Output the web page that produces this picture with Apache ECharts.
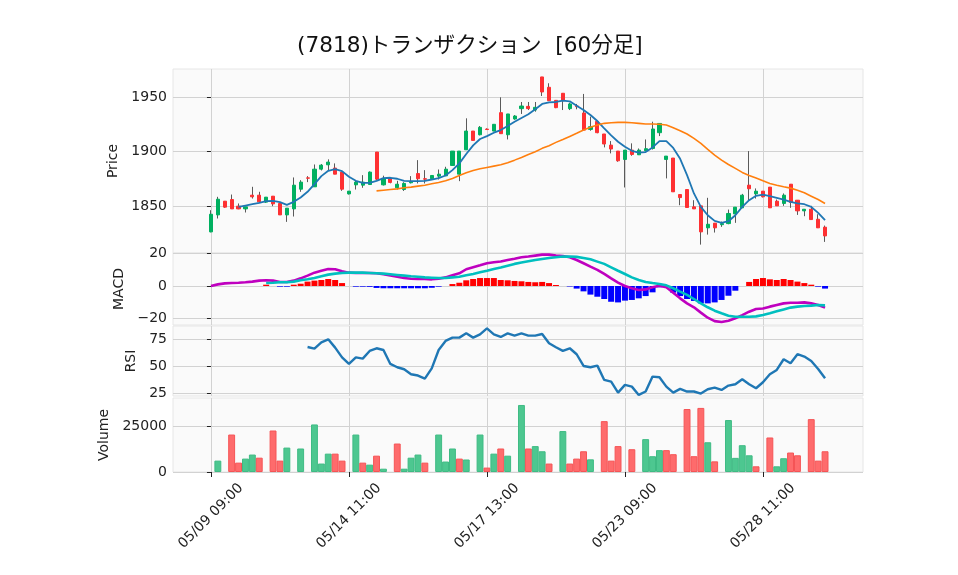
<!DOCTYPE html>
<html>
<head>
<meta charset="utf-8">
<script src="https://cdn.jsdelivr.net/npm/echarts@6/dist/echarts.min.js"></script>
<style>
  html, body { margin: 0; padding: 0; background: #fff; }
  #chart { width: 958px; height: 575px; }
</style>
</head>
<body>
<div id="chart"></div>
<script>
// bar labels: 6 hourly bars per trading day
const days = ['05/09', '05/10', '05/13', '05/14', '05/15', '05/16', '05/17', '05/20',
  '05/21', '05/22', '05/23', '05/24', '05/27', '05/28', '05/29']
const hours = ['09:00', '10:00', '11:00', '12:00', '13:00', '14:00']
const xTicks = [0, 20, 40, 60, 80]

const opens = [1826.4, 1842.0, 1854.6, 1856.1, 1850.0, 1847.5, 1860.1, 1860.1, 1853.7, 1859.2,
  1852.5, 1842.0, 1847.5, 1865.6, 1876.0, 1867.8, 1884.0, 1888.0, 1885.0, 1881.3,
  1861.3, 1869.6, 1869.3, 1869.9, 1899.7, 1869.6, 1875.5, 1866.9, 1865.3, 1871.5,
  1880.0, 1875.2, 1875.2, 1877.6, 1877.9, 1887.4, 1879.4, 1901.8, 1919.0, 1915.6,
  1920.8, 1919.0, 1935.9, 1915.6, 1930.1, 1939.6, 1941.7, 1938.3, 1968.7, 1959.2,
  1947.2, 1953.7, 1939.6, 1942.0, 1935.6, 1920.5, 1927.9, 1916.3, 1906.1, 1900.6,
  1892.9, 1901.5, 1897.2, 1900.9, 1903.0, 1917.5, 1892.9, 1894.2, 1860.7, 1865.3,
  1849.4, 1850.3, 1830.1, 1834.4, 1833.0, 1834.0, 1842.9, 1848.5, 1869.3, 1861.3,
  1863.8, 1867.5, 1854.6, 1852.5, 1870.2, 1855.5, 1845.7, 1847.2, 1838.0, 1830.7]
const closes = [1842.6, 1856.4, 1849.1, 1847.5, 1847.5, 1849.4, 1858.6, 1854.0, 1858.3, 1852.1,
  1842.0, 1848.2, 1869.3, 1872.1, 1875.7, 1884.0, 1887.7, 1890.5, 1879.4, 1865.6,
  1863.8, 1872.1, 1872.1, 1881.3, 1874.8, 1875.5, 1871.8, 1870.2, 1870.9, 1872.7,
  1875.2, 1874.8, 1878.2, 1879.4, 1884.0, 1900.6, 1900.6, 1919.0, 1910.4, 1922.4,
  1920.4, 1925.2, 1916.6, 1934.7, 1932.8, 1942.0, 1939.6, 1940.8, 1954.9, 1946.9,
  1940.5, 1946.9, 1943.9, 1941.4, 1919.9, 1923.0, 1917.5, 1907.1, 1902.5, 1891.7,
  1901.5, 1897.5, 1901.5, 1902.8, 1920.9, 1926.0, 1896.0, 1863.2, 1857.9, 1848.8,
  1847.5, 1826.4, 1833.4, 1830.1, 1834.0, 1843.3, 1849.1, 1860.1, 1866.0, 1863.8,
  1858.6, 1848.5, 1850.3, 1860.1, 1853.4, 1845.7, 1847.2, 1837.7, 1830.1, 1822.7]
const highs = [1846.3, 1858.6, 1854.6, 1860.7, 1852.5, 1849.4, 1867.8, 1863.2, 1858.3, 1859.2,
  1852.5, 1848.2, 1876.4, 1873.9, 1877.6, 1888.3, 1888.7, 1893.0, 1889.3, 1881.3,
  1864.0, 1873.3, 1878.5, 1881.9, 1899.7, 1878.0, 1876.0, 1873.3, 1872.0, 1877.6,
  1892.3, 1883.1, 1878.2, 1883.7, 1886.2, 1900.6, 1900.6, 1930.7, 1919.0, 1923.6,
  1921.5, 1925.2, 1950.0, 1934.7, 1933.7, 1945.7, 1945.7, 1945.7, 1968.7, 1962.9,
  1947.5, 1953.7, 1945.1, 1943.9, 1953.1, 1932.2, 1928.0, 1916.3, 1909.8, 1900.6,
  1901.5, 1907.7, 1903.0, 1911.3, 1927.6, 1926.0, 1896.0, 1894.2, 1860.7, 1865.3,
  1855.5, 1850.3, 1857.7, 1834.4, 1835.9, 1846.9, 1849.1, 1861.3, 1900.6, 1866.3,
  1863.8, 1867.5, 1856.1, 1861.7, 1870.2, 1855.5, 1847.2, 1850.3, 1842.6, 1832.2]
const lows = [1826.0, 1838.7, 1848.5, 1847.5, 1847.2, 1844.2, 1857.0, 1854.0, 1853.0, 1850.0,
  1842.0, 1835.6, 1840.5, 1863.2, 1872.1, 1867.8, 1882.8, 1883.0, 1879.4, 1864.1,
  1860.7, 1865.3, 1866.9, 1869.9, 1874.0, 1869.0, 1871.0, 1865.3, 1864.0, 1870.9,
  1870.9, 1870.9, 1874.0, 1874.5, 1877.9, 1887.4, 1873.0, 1901.8, 1910.4, 1915.0,
  1920.0, 1919.0, 1916.6, 1911.3, 1929.4, 1934.7, 1938.3, 1936.8, 1951.2, 1946.9,
  1940.0, 1938.3, 1938.3, 1939.0, 1919.9, 1919.3, 1917.0, 1904.0, 1898.5, 1890.8,
  1867.2, 1896.3, 1897.0, 1900.9, 1902.0, 1914.4, 1875.5, 1863.2, 1850.9, 1848.8,
  1847.5, 1814.7, 1823.9, 1825.8, 1831.0, 1833.4, 1834.7, 1848.5, 1855.5, 1857.0,
  1858.0, 1848.5, 1850.3, 1850.3, 1848.5, 1842.0, 1840.8, 1837.7, 1830.1, 1817.2]

// moving averages (first value sits at bar index given by *Start)
const ma5Start = 4
const ma5 = [1849.4, 1850.6, 1851.8, 1853.0, 1854.6, 1854.9,
  1853.7, 1851.2, 1854.0, 1858.0, 1863.2, 1870.2, 1877.6, 1882.5, 1884.0, 1882.2,
  1877.0, 1873.3, 1871.5, 1871.5, 1873.3, 1875.8, 1876.1, 1875.2, 1873.3, 1873.0,
  1873.0, 1873.3, 1874.5, 1875.8, 1878.2, 1883.1, 1889.3, 1897.9, 1905.8, 1911.7,
  1914.4, 1917.5, 1919.9, 1923.6, 1927.6, 1931.0, 1934.4, 1939.0, 1943.9, 1945.4,
  1945.7, 1946.9, 1946.3, 1942.3, 1938.3, 1933.7, 1928.2, 1921.5, 1915.0, 1909.2,
  1904.6, 1900.9, 1899.1, 1899.7, 1904.0, 1909.8, 1909.8, 1903.5, 1893.5, 1878.5,
  1861.7, 1849.4, 1841.7, 1836.5, 1834.7, 1836.2, 1841.7, 1849.4, 1855.5, 1859.5,
  1860.7, 1859.2, 1857.7, 1856.1, 1854.0, 1852.5, 1851.8, 1849.4, 1843.9, 1837.1]
const ma25Start = 24
const ma25 = [1864.1, 1864.7, 1865.3, 1865.9, 1866.9, 1867.5, 1868.4, 1869.3, 1870.6, 1871.8,
  1873.3, 1875.5, 1878.2, 1880.7, 1882.8, 1884.4, 1885.6, 1886.8, 1888.0, 1889.9,
  1892.3, 1894.8, 1897.5, 1900.0, 1903.1, 1905.5, 1908.6, 1911.3, 1914.1, 1916.9,
  1919.9, 1922.4, 1924.5, 1926.1, 1926.7, 1927.0, 1927.0, 1926.7, 1926.1, 1925.5,
  1925.5, 1925.2, 1924.5, 1922.1, 1919.3, 1916.3, 1912.3, 1907.7, 1902.1, 1896.9,
  1892.3, 1888.3, 1884.7, 1881.0, 1878.2, 1875.8, 1873.3, 1870.9, 1869.3, 1867.8,
  1866.6, 1864.7, 1862.3, 1859.2, 1856.1, 1852.5]

const macd = [0, 1.0, 1.6, 1.8, 2.0, 2.3, 2.7, 3.3, 3.5, 3.3,
  2.5, 2.5, 3.3, 4.7, 6.4, 8.2, 9.4, 10.5, 10.3, 9.0,
  8.2, 8.0, 8.0, 8.0, 7.8, 7.2, 6.4, 5.7, 4.9, 4.5,
  4.3, 4.3, 4.1, 4.5, 5.3, 6.6, 7.8, 10.3, 11.5, 12.7,
  14.0, 14.6, 15.1, 16.0, 16.8, 17.7, 18.1, 18.7, 19.3, 19.3,
  18.7, 18.5, 17.7, 16.0, 14.0, 11.9, 9.9, 7.4, 4.7, 2.1,
  0, -1.4, -2.5, -2.1, -0.8, 0.2, -0.8, -4.1, -7.6, -10.7,
  -13.1, -16.4, -19.5, -21.6, -22.2, -21.4, -19.9, -17.9, -15.8, -14.2,
  -13.8, -12.7, -11.7, -10.7, -10.3, -10.3, -10.1, -10.7, -11.7, -13.3]
const sigStart = 8
const signal = [1.8, 2.0, 2.3, 2.3, 2.7, 3.5, 4.1, 4.9, 6.0, 7.0,
  7.6, 8.0, 8.2, 8.2, 8.2, 8.0, 7.8, 7.6, 7.2, 6.8,
  6.4, 6.0, 5.7, 5.3, 5.1, 4.9, 4.9, 5.3, 5.7, 6.6,
  7.4, 8.4, 9.4, 10.5, 11.4, 12.5, 13.6, 14.4, 15.2, 16.0,
  16.6, 17.2, 17.7, 18.1, 18.1, 17.9, 17.2, 16.4, 15.0, 13.6,
  11.5, 9.4, 7.4, 5.3, 3.7, 2.5, 1.8, 1.2, 0.4, -1.4,
  -3.5, -5.5, -8.0, -10.7, -13.1, -15.2, -16.8, -18.3, -18.9, -18.9,
  -18.9, -18.7, -17.9, -16.8, -15.6, -14.4, -13.3, -12.7, -12.3, -12.1, -11.7, -11.9]
const hist = [0.8, 0, -0.4, -0.4, 0.8, 1.4, 2.7, 3.3, 3.7, 4.3,
  3.7, 1.8, 0, -0.4, -0.4, -0.5, -1.2, -1.4, -1.4, -1.4,
  -1.4, -1.4, -1.4, -1.4, -1.1, -0.4, 0, 1.2, 2.0, 3.5,
  4.3, 4.9, 4.9, 4.9, 3.7, 3.5, 3.1, 2.9, 2.5, 2.3,
  2.5, 1.8, 0.6, 0, -0.3, -1.6, -3.3, -5.3, -6.6, -8.0,
  -9.7, -10.1, -9.0, -8.6, -7.6, -6.2, -3.9, -0.8, -0.2, -4.1,
  -6.2, -8.0, -9.2, -10.7, -10.7, -10.1, -8.6, -6.0, -2.9, 0,
  2.5, 4.3, 4.9, 4.1, 3.7, 4.3, 3.7, 2.7, 1.8, 0.8, -0.4, -1.6]

const rsiStart = 14
const rsi = [68.1, 66.6, 72.5, 75.3, 67.5, 58.4, 52.2, 58.4, 57.2, 64.4,
  66.9, 65.3, 52.2, 49.1, 47.2, 42.5, 41.3, 38.4, 48.1, 65.3,
  73.8, 76.9, 76.9, 80.9, 76.9, 80.0, 85.6, 80.0, 77.5, 80.9,
  78.8, 80.9, 78.8, 78.8, 80.3, 71.6, 67.8, 64.4, 66.9, 61.3,
  50.3, 49.1, 50.6, 37.2, 35.6, 25.3, 32.5, 30.9, 23.1, 26.3,
  40.3, 39.7, 30.9, 25.3, 28.8, 26.3, 26.3, 24.4, 28.4, 30.0,
  27.8, 31.9, 33.1, 37.8, 33.1, 29.4, 35.0, 42.5, 46.6, 56.6,
  52.8, 61.3, 59.1, 55.0, 47.5, 38.8]

const volumes = [0, 6200, 0, 20400, 5100, 7300, 9500, 7800, 0, 22600,
  6200, 13300, 0, 12800, 0, 25900, 4600, 10000, 10000, 6200,
  0, 20400, 5100, 4000, 8900, 1800, 0, 15500, 1800, 7800,
  9500, 5100, 0, 20400, 5700, 12800, 7300, 6800, 0, 20400,
  2400, 10000, 12800, 8900, 0, 36500, 12800, 14100, 11300, 4600,
  0, 22300, 4600, 7300, 11300, 6900, 0, 27700, 6200, 14100,
  0, 12400, 0, 17900, 8600, 11900, 11900, 9700, 0, 34300,
  8600, 34900, 16200, 5800, 0, 28300, 7700, 14600, 9100, 3100,
  0, 18800, 3100, 7500, 10600, 9100, 0, 28800, 6200, 11300]
// u = close up vs previous bar, d = down, - = no volume
const volDir = '-u-dduud-d' + 'du-u-uuudd' + '-ududu-duu' + 'ud-uuudu-u' + 'dudu-uduud' +
  '-udddu-ddd' + '-d-uuudd-d' + 'ddud-uuuud' + '-duudd-ddd'

const labels = days.flatMap(d => hours.map(h => d + ' ' + h))

const FONT = '"DejaVu Sans", "Noto Sans CJK JP", sans-serif'
const TXT = '#222'
const GRIDLINE = '#d2d2d2'
const UP = '#00b060', DOWN = '#fe3032'

const chart = echarts.init(document.getElementById('chart'))

// matplotlib style numbers: no thousands separator, real minus sign
const fmtNum = v => (v < 0 ? '\u2212' : '') + String(Math.abs(v))

function xAxis(idx, bottom) {
  return {
    type: 'value', gridIndex: idx, min: -5.5, max: 94.5,
    axisLine: { show: false },
    axisTick: { show: bottom, customValues: xTicks, length: 5, lineStyle: { color: TXT } },
    axisLabel: {
      show: bottom, customValues: xTicks, formatter: v => labels[v],
      rotate: 45, align: 'center', verticalAlign: 'middle', margin: 44,
      fontFamily: FONT, fontSize: 14, color: TXT
    },
    splitLine: { show: true, lineStyle: { color: GRIDLINE } }
  }
}

function yAxis(idx, name, min, max, ticks, gap) {
  return {
    type: 'value', gridIndex: idx, min: min, max: max,
    name: name, nameLocation: 'middle', nameGap: gap,
    nameTextStyle: { fontFamily: FONT, fontSize: 14, color: TXT },
    axisLine: { show: false },
    axisTick: { show: true, customValues: ticks, length: 4, lineStyle: { color: TXT } },
    axisLabel: { customValues: ticks, formatter: fmtNum, fontFamily: FONT, fontSize: 14, color: TXT, margin: 6 },
    splitLine: { show: true, lineStyle: { color: GRIDLINE } }
  }
}

const gridBase = { left: 173, right: 95, show: true, backgroundColor: '#fafafa', borderColor: '#e6e6e6', borderWidth: 1 }

const wickData = opens.map((o, i) => [i, o, closes[i], lows[i], highs[i]])
const bodyData = opens.map((o, i) => [i, o, closes[i], Math.min(o, closes[i]), Math.max(o, closes[i])])
const line = (arr, start) => arr.map((v, i) => [i + start, v])

const volData = []
volumes.forEach((v, i) => {
  if (!v) return
  const up = volDir[i] === 'u'
  volData.push({
    value: [i, v],
    itemStyle: { color: up ? '#4dc790' : '#fe6b6c', borderColor: up ? '#3fbb84' : '#f55456', borderWidth: 1 }
  })
})

chart.setOption({
  animation: false,
  title: {
    text: '(7818)トランザクション  [60分足]',
    left: 292, top: 31,
    textStyle: { fontFamily: FONT, fontSize: 21.6, fontWeight: 'normal', color: '#111' }
  },
  grid: [
    Object.assign({ top: 69, height: 184 }, gridBase),
    Object.assign({ top: 253, height: 72 }, gridBase),
    Object.assign({ top: 326, height: 70 }, gridBase),
    Object.assign({ top: 398, height: 74 }, gridBase)
  ],
  xAxis: [xAxis(0, false), xAxis(1, false), xAxis(2, false), xAxis(3, true)],
  yAxis: [
    yAxis(0, 'Price', 1807, 1976, [1850, 1900, 1950], 44),
    yAxis(1, 'MACD', -24, 20.3, [-20, 0, 20], 42),
    yAxis(2, 'RSI', 22.1, 87.8, [25, 50, 75], 32),
    yAxis(3, 'Volume', 0, 40300, [0, 25000], 56)
  ],
  series: [
    {
      type: 'candlestick', xAxisIndex: 0, yAxisIndex: 0, data: wickData,
      encode: { x: 0, y: [1, 2, 3, 4] }, barWidth: 1,
      itemStyle: { color: '#5a5a5a', color0: '#5a5a5a', borderColor: '#5a5a5a', borderColor0: '#5a5a5a', borderWidth: 1 }
    },
    {
      type: 'candlestick', xAxisIndex: 0, yAxisIndex: 0, data: bodyData,
      encode: { x: 0, y: [1, 2, 3, 4] }, barWidth: 3.6,
      itemStyle: { color: UP, color0: DOWN, borderColor: UP, borderColor0: DOWN, borderWidth: 1 }
    },
    {
      type: 'line', xAxisIndex: 0, yAxisIndex: 0, data: line(ma5, ma5Start),
      symbol: 'none', lineStyle: { color: '#1f77b4', width: 1.8 }, z: 3
    },
    {
      type: 'line', xAxisIndex: 0, yAxisIndex: 0, data: line(ma25, ma25Start),
      symbol: 'none', lineStyle: { color: '#ff7f0e', width: 1.6 }, z: 3
    },
    {
      type: 'bar', xAxisIndex: 1, yAxisIndex: 1, barWidth: 6, z: 1,
      data: hist.map((v, i) => ({ value: [i + sigStart, v], itemStyle: { color: v >= 0 ? '#ff0000' : '#0000ff' } }))
    },
    {
      type: 'line', xAxisIndex: 1, yAxisIndex: 1, data: line(macd, 0),
      symbol: 'none', lineStyle: { color: '#bf00bf', width: 2.6 }, z: 3
    },
    {
      type: 'line', xAxisIndex: 1, yAxisIndex: 1, data: line(signal, sigStart),
      symbol: 'none', lineStyle: { color: '#00bfbf', width: 2.6 }, z: 3
    },
    {
      type: 'line', xAxisIndex: 2, yAxisIndex: 2, data: line(rsi, rsiStart),
      symbol: 'none', lineStyle: { color: '#1f77b4', width: 2.4 }, z: 3
    },
    {
      type: 'bar', xAxisIndex: 3, yAxisIndex: 3, barWidth: 6.9, data: volData
    }
  ]
})
</script>
</body>
</html>
